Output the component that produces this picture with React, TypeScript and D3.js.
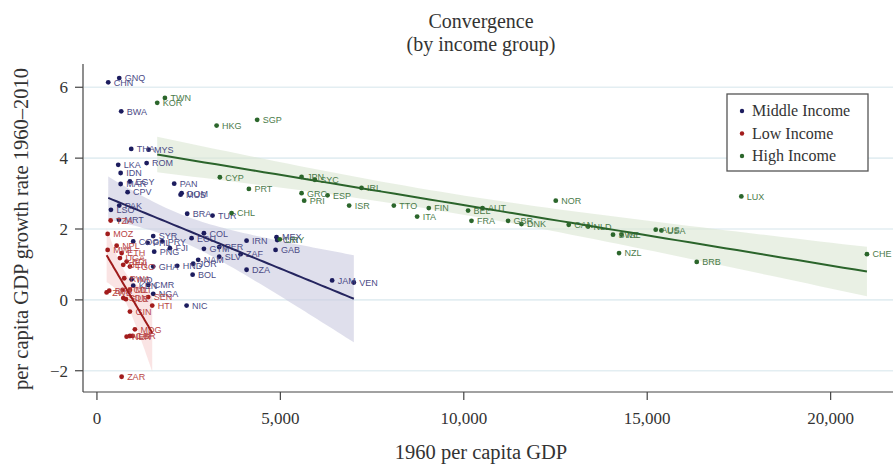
import React, { useEffect, useRef } from 'react';
import * as d3 from 'd3';

// [country code, 1960 per capita GDP, growth rate 1960-2010]
type Pt = [string, number, number];

const middleIncome: Pt[] = [
  ['CHN', 308, 6.14], ['GNQ', 608, 6.26], ['BWA', 662, 5.32], ['THA', 935, 4.26],
  ['MYS', 1408, 4.24], ['LKA', 580, 3.81], ['ROM', 1354, 3.86], ['IDN', 646, 3.58],
  ['EGY', 899, 3.34], ['MAR', 646, 3.27], ['CPV', 836, 3.04], ['PAN', 2106, 3.28],
  ['DOM', 2308, 3.01], ['MUS', 2280, 2.97], ['PAK', 608, 2.66], ['LSO', 381, 2.54],
  ['MRT', 600, 2.26], ['BRA', 2460, 2.43], ['TUR', 3151, 2.38], ['SYR', 1534, 1.8],
  ['COG', 989, 1.65], ['PHL', 1381, 1.61], ['PRY', 1779, 1.65], ['FJI', 1989, 1.46],
  ['PNG', 1561, 1.36], ['ECU', 2580, 1.74], ['COL', 2916, 1.88], ['GTM', 2916, 1.44],
  ['PER', 3333, 1.49], ['SLV', 3333, 1.22], ['ZAF', 3916, 1.29], ['IRN', 4079, 1.67],
  ['MEX', 4896, 1.77], ['CRI', 4913, 1.69], ['GAB', 4869, 1.41], ['NAM', 2760, 1.13],
  ['JOR', 2624, 1.02], ['HND', 2188, 0.96], ['GHA', 1534, 0.94], ['BOL', 2608, 0.71],
  ['DZA', 4079, 0.85], ['JAM', 6411, 0.55], ['VEN', 7003, 0.49], ['NIC', 2444, -0.16],
  ['IND', 945, 0.58], ['KEN', 989, 0.4], ['CMR', 1398, 0.42], ['NGA', 1534, 0.17],
];

const lowIncome: Pt[] = [
  ['MOZ', 292, 1.86], ['TZA', 373, 2.24], ['NPL', 537, 1.53], ['MWI', 292, 1.41],
  ['ETH', 673, 1.32], ['UGA', 627, 1.18], ['BDI', 809, 1.08], ['BEN', 717, 0.99],
  ['TGO', 899, 0.94], ['RWA', 744, 0.61], ['ZWE', 264, 0.21], ['BFA', 335, 0.26],
  ['TCD', 700, 0.28], ['MLI', 899, 0.28], ['SDN', 717, 0.05], ['SLE', 790, 0.02],
  ['SEN', 1398, 0.08], ['HTI', 1507, -0.16], ['GIN', 899, -0.33], ['MDG', 1035, -0.83],
  ['NER', 809, -1.04], ['CAF', 899, -1.02], ['LBR', 973, -1.02], ['ZAR', 673, -2.17],
];

const highIncome: Pt[] = [
  ['KOR', 1643, 5.56], ['TWN', 1853, 5.7], ['HKG', 3262, 4.92], ['SGP', 4368, 5.08],
  ['CYP', 3351, 3.46], ['PRT', 4142, 3.13], ['CHL', 3670, 2.45], ['URY', 4986, 1.71],
  ['JPN', 5578, 3.47], ['SYC', 5940, 3.39], ['IRL', 7212, 3.16], ['GRC', 5578, 3.01],
  ['PRI', 5649, 2.8], ['ESP', 6286, 2.95], ['ISR', 6875, 2.66], ['TTO', 8093, 2.66],
  ['FIN', 9046, 2.59], ['ITA', 8728, 2.35], ['BEL', 10117, 2.52], ['AUT', 10510, 2.59],
  ['FRA', 10210, 2.23], ['GBR', 11207, 2.23], ['DNK', 11572, 2.14], ['NOR', 12507, 2.8],
  ['CAN', 12861, 2.12], ['NLD', 13387, 2.07], ['SWE', 14068, 1.84], ['ISL', 14300, 1.84],
  ['AUS', 15232, 1.98], ['USA', 15387, 1.96], ['NZL', 14232, 1.32], ['BRB', 16350, 1.07],
  ['LUX', 17565, 2.92], ['CHE', 20990, 1.29],
];

// fitted lines: [intercept, slope per $]
const middleFit = [3.008, -0.000425];
const lowFit = [1.724, -0.001761];
const highFit = [4.38, -0.0001706];

const xTicks = [0, 5000, 10000, 15000, 20000];
const yTicks = [-2, 0, 2, 4, 6];

const groups = [
  { name: 'Middle Income', data: middleIncome, fit: middleFit, dot: '#1c1c5e', label: '#4b4b86', line: '#25255f', band: '#c9c9e0' },
  { name: 'Low Income', data: lowIncome, fit: lowFit, dot: '#a21c1c', label: '#b84646', line: '#9e1b1b', band: '#f6d2d2' },
  { name: 'High Income', data: highIncome, fit: highFit, dot: '#2b662b', label: '#4b7b4b', line: '#2b642b', band: '#dbe6d2' },
];

const W = 893;
const H = 466;
const SERIF = '"Liberation Serif", "Times New Roman", serif';
const SANS = '"Liberation Sans", Arial, sans-serif';

// 95% CI of the mean prediction around the fitted line (like Stata lfitci)
function fitCI(data: Pt[], fit: number[]) {
  const [a, b] = fit;
  const n = data.length;
  const mx = d3.mean(data, d => d[1])!;
  const sxx = d3.sum(data, d => (d[1] - mx) ** 2);
  const sse = d3.sum(data, d => (d[2] - a - b * d[1]) ** 2);
  const s = Math.sqrt(sse / (n - 2));
  const t = 1.96 + 2.4 / (n - 2);
  const [lo, hi] = d3.extent(data, d => d[1]) as [number, number];
  return d3.range(0, 61).map(i => {
    const xv = lo + (hi - lo) * i / 60;
    const yh = a + b * xv;
    const half = t * s * Math.sqrt(1 / n + (xv - mx) ** 2 / sxx);
    return { x: xv, y: yh, y0: yh - half, y1: yh + half };
  });
}

export default function App() {
  const ref = useRef<SVGSVGElement>(null);

  useEffect(() => {
    document.body.style.margin = '0';
    const svg = d3.select(ref.current);
    svg.selectAll('*').remove();

    const x = d3.scaleLinear().domain([-380, 21700]).range([83, 893]);
    const y = d3.scaleLinear().domain([-2.6, 6.6]).range([392, 66]);

    // gridlines
    svg.append('g').selectAll('line').data(yTicks).join('line')
      .attr('x1', 84).attr('x2', W)
      .attr('y1', d => y(d)).attr('y2', d => y(d))
      .attr('stroke', '#e3eef2').attr('stroke-width', 1.6);

    // confidence bands
    const fits = groups.map(g => fitCI(g.data, g.fit));
    const area = d3.area<any>().x(d => x(d.x)).y0(d => y(d.y0)).y1(d => y(d.y1));
    groups.forEach((g, i) => {
      svg.append('path').attr('d', area(fits[i])!)
        .attr('fill', g.band).attr('fill-opacity', 0.6);
    });

    // points and labels
    groups.forEach(g => {
      const pg = svg.append('g');
      pg.selectAll('circle').data(g.data).join('circle')
        .attr('cx', d => x(d[1])).attr('cy', d => y(d[2])).attr('r', 2.4)
        .attr('fill', g.dot);
      pg.selectAll('text').data(g.data).join('text')
        .attr('x', d => x(d[1]) + 5.5).attr('y', d => y(d[2]) + 3.3)
        .attr('font-family', SANS).attr('font-size', 9)
        .attr('fill', g.label)
        .text(d => d[0]);
    });

    // fitted lines
    const line = d3.line<any>().x(d => x(d.x)).y(d => y(d.y));
    groups.forEach((g, i) => {
      svg.append('path').attr('d', line(fits[i])!)
        .attr('fill', 'none').attr('stroke', g.line).attr('stroke-width', 2);
    });

    // axes
    const ax = svg.append('g').attr('stroke', '#444').attr('stroke-width', 1.2);
    ax.append('line').attr('x1', 83).attr('x2', 83).attr('y1', 64).attr('y2', 392);
    ax.append('line').attr('x1', 83).attr('x2', W).attr('y1', 392).attr('y2', 392);
    ax.selectAll('.yt').data(yTicks).join('line').attr('class', 'yt')
      .attr('x1', 75).attr('x2', 83).attr('y1', d => y(d)).attr('y2', d => y(d));
    ax.selectAll('.xt').data(xTicks).join('line').attr('class', 'xt')
      .attr('x1', d => x(d)).attr('x2', d => x(d)).attr('y1', 392).attr('y2', 400);

    svg.append('g').selectAll('text').data(yTicks).join('text')
      .attr('x', 68).attr('y', d => y(d) + 6)
      .attr('text-anchor', 'end').attr('font-family', SERIF).attr('font-size', 17)
      .attr('fill', '#333')
      .text(d => d < 0 ? '\u2212' + Math.abs(d) : String(d));

    svg.append('g').selectAll('text').data(xTicks).join('text')
      .attr('x', d => x(d)).attr('y', 424)
      .attr('text-anchor', 'middle').attr('font-family', SERIF).attr('font-size', 17)
      .attr('fill', '#333')
      .text(d => d3.format(',')(d));

    // titles
    const title = (t: string, tx: number, ty: number, size: number) =>
      svg.append('text').attr('x', tx).attr('y', ty).attr('text-anchor', 'middle')
        .attr('font-family', SERIF).attr('font-size', size).attr('fill', '#333').text(t);
    title('Convergence', 481, 28, 20);
    title('(by income group)', 481, 51, 20);
    title('1960 per capita GDP', 481, 459, 20.5);
    svg.append('text')
      .attr('transform', `translate(28,229) rotate(-90)`)
      .attr('text-anchor', 'middle').attr('font-family', SERIF).attr('font-size', 20.5)
      .attr('fill', '#333').text('per capita GDP growth rate 1960\u20132010');

    // legend
    const lg = svg.append('g');
    lg.append('rect').attr('x', 727).attr('y', 94).attr('width', 141).attr('height', 77)
      .attr('fill', 'white').attr('stroke', '#555').attr('stroke-width', 1.3);
    groups.forEach((g, i) => {
      const ly = 111 + i * 22.5;
      lg.append('circle').attr('cx', 742).attr('cy', ly).attr('r', 2.2).attr('fill', g.dot);
      lg.append('text').attr('x', 752).attr('y', ly + 5)
        .attr('font-family', SERIF).attr('font-size', 16).attr('fill', '#333').text(g.name);
    });
  }, []);

  return (
    <div style={{ position: 'absolute', left: 0, top: 0 }}>
      <svg ref={ref} width={W} height={H} style={{ display: 'block', background: 'white' }} />
    </div>
  );
}
